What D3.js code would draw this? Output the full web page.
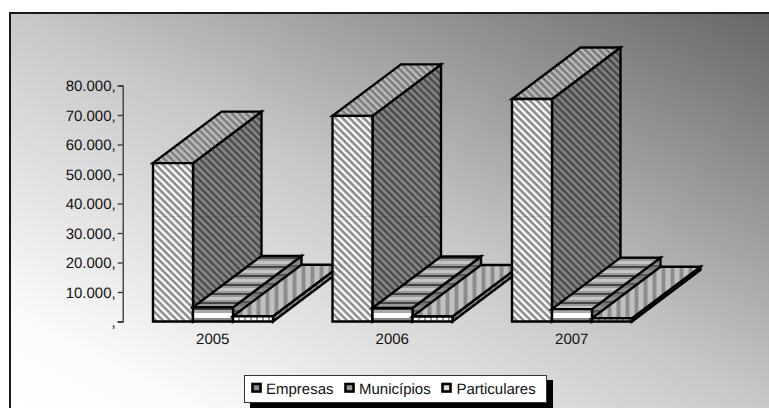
<!DOCTYPE html>
<html><head><meta charset="utf-8">
<script src="https://cdn.jsdelivr.net/npm/d3@7"></script>
<style>html,body{margin:0;background:#fff}svg{display:block}text{font-family:"Liberation Sans",Arial,sans-serif;fill:#111;text-rendering:geometricPrecision}</style>
</head><body><div id="c"></div>
<script>
const years = ["2005","2006","2007"];
const seriesNames = ["Empresas","Municípios","Particulares"];
const empresas = [53700,69700,75400];
const municipios = [4800,4600,4200];
const particulares = [1800,1700,1100];
const tickValues = [0,10000,20000,30000,40000,50000,60000,70000,80000];
const seriesValues = [empresas,municipios,particulares];

const W=769,H=408,DX=68.5,DY=-51.5;
const svg=d3.select("#c").append("svg").attr("width",W).attr("height",H);
const defs=svg.append("defs");
const grad=defs.append("linearGradient").attr("id","bg").attr("x1",0).attr("y1",1).attr("x2",1).attr("y2",0);
[[0,"#ffffff"],[.12,"#fbfbfb"],[.5,"#c8c8c8"],[1,"#666666"]].forEach(s=>grad.append("stop").attr("offset",s[0]).attr("stop-color",s[1]));

function stripes(id,kind,period,bands){
  const p=defs.append("pattern").attr("id",id).attr("patternUnits","userSpaceOnUse");
  if(kind==="h"){p.attr("width",8).attr("height",period);}
  else{p.attr("width",period).attr("height",8);}
  if(kind==="d")p.attr("patternTransform","rotate(-45)");
  let t=0;
  bands.forEach(b=>{
    const r=p.append("rect").attr("fill",b[1]);
    if(kind==="h")r.attr("x",0).attr("width",8).attr("y",t).attr("height",b[0]);
    else r.attr("y",0).attr("height",8).attr("x",t).attr("width",b[0]);
    t+=b[0];
  });
}
const FACES={
 Empresas:{front:"e-f",top:"e-t",side:"e-s"},
 "Municípios":{front:"m-f",top:"m-t",side:"m-s"},
 Particulares:{front:"p-f",top:"p-t",side:"p-s"}
};
stripes("e-f","d",5,[[2.5,"#ffffff"],[2.5,"#8a8a8a"]]);
stripes("e-t","d",5,[[2.5,"#bcbcbc"],[2.5,"#7c7c7c"]]);
stripes("e-s","d",5,[[2.5,"#848484"],[2.5,"#484848"]]);
stripes("m-f","h",18,[[4,"#444444"],[3,"#aaaaaa"],[5,"#ffffff"],[6,"#888888"]]);
stripes("m-t","h",9,[[3,"#c4c4c4"],[2,"#9a9a9a"],[2,"#444444"],[2,"#9a9a9a"]]);
stripes("m-s","h",9,[[4,"#8a8a8a"],[2,"#555555"],[3,"#777777"]]);
stripes("p-f","v",6,[[4,"#ffffff"],[2,"#999999"]]);
stripes("p-t","v",9,[[4,"#c0c0c0"],[1,"#a8a8a8"],[3,"#8c8c8c"],[1,"#a8a8a8"]]);
stripes("p-s","v",6,[[3,"#999999"],[3,"#777777"]]);

svg.append("rect").attr("x",9).attr("y",12).attr("width",W-9).attr("height",H-12).attr("fill","url(#bg)");
svg.append("path").attr("d",`M10,${H}V13H${W}`).attr("fill","none").attr("stroke","#1a1a1a").attr("stroke-width",2);

const y=d3.scaleLinear().domain([0,80000]).range([321.5,85.5]);
const x0=d3.scaleBand().domain(years).range([123,661.5]);
const x1=d3.scaleBand().domain(seriesNames).range([30,150]);

const fmt=d=>d?d3.format(",")(d).replace(",",".")+",":",";
const ax=svg.append("g").attr("transform","translate(122.7,0)").call(d3.axisLeft(y).tickValues(tickValues).tickSize(5).tickPadding(2).tickFormat(fmt));
ax.selectAll("path,line").attr("stroke","#333").attr("stroke-width",1.3);
ax.selectAll("text").style("font-size","15px").attr("fill","#111").attr("dy","0.36em");

const pts=a=>a.map(p=>p.join(",")).join(" ");
years.forEach((yr,i)=>{
  const g=svg.append("g");
  seriesNames.forEach((s,j)=>{
    const v=seriesValues[j][i];
    const l=x0(yr)+x1(s),r=l+x1.bandwidth(),t=y(v),b=y(0),f=FACES[s];
    const add=(P,fill)=>g.append("polygon").attr("points",pts(P)).attr("fill",`url(#${fill})`)
      .attr("stroke","#000").attr("stroke-width",2.4).attr("stroke-linejoin","miter");
    add([[r,b],[r+DX,b+DY],[r+DX,t+DY],[r,t]],f.side);
    add([[l,t],[r,t],[r+DX,t+DY],[l+DX,t+DY]],f.top);
    add([[l,t],[r,t],[r,b],[l,b]],f.front);
  });
  const ex=x0(yr)+x1("Empresas");
  g.append("line").attr("x1",ex+1).attr("x2",ex+x1.bandwidth()+DX-1).attr("y1",216.5).attr("y2",216.5).attr("stroke","#000").attr("stroke-opacity",.1);
});

svg.selectAll("text.yr").data(years).join("text").attr("class","yr")
  .attr("x",d=>x0(d)+x0.bandwidth()/2).attr("y",344).attr("text-anchor","middle").style("font-size","15px").text(d=>d);

const leg=svg.append("g");
leg.append("rect").attr("x",250).attr("y",380).attr("width",303).attr("height",28).attr("fill","#000");
leg.append("rect").attr("x",244.5).attr("y",375.5).attr("width",302).attr("height",27).attr("fill","#fff").attr("stroke","#333").attr("stroke-width",1);
const keyX=[252.5,345.5,442.5],textX=[266,359,456.5],keyFill=["#8c8c8c","#999999","#dddddd"];
seriesNames.forEach((s,j)=>{
  leg.append("rect").attr("x",keyX[j]).attr("y",384).attr("width",8).attr("height",7.5)
    .attr("fill",keyFill[j]).attr("stroke","#000").attr("stroke-width",2.6);
  leg.append("text").attr("x",textX[j]).attr("y",394).style("font-size","15px").text(s);
});
</script></body></html>
